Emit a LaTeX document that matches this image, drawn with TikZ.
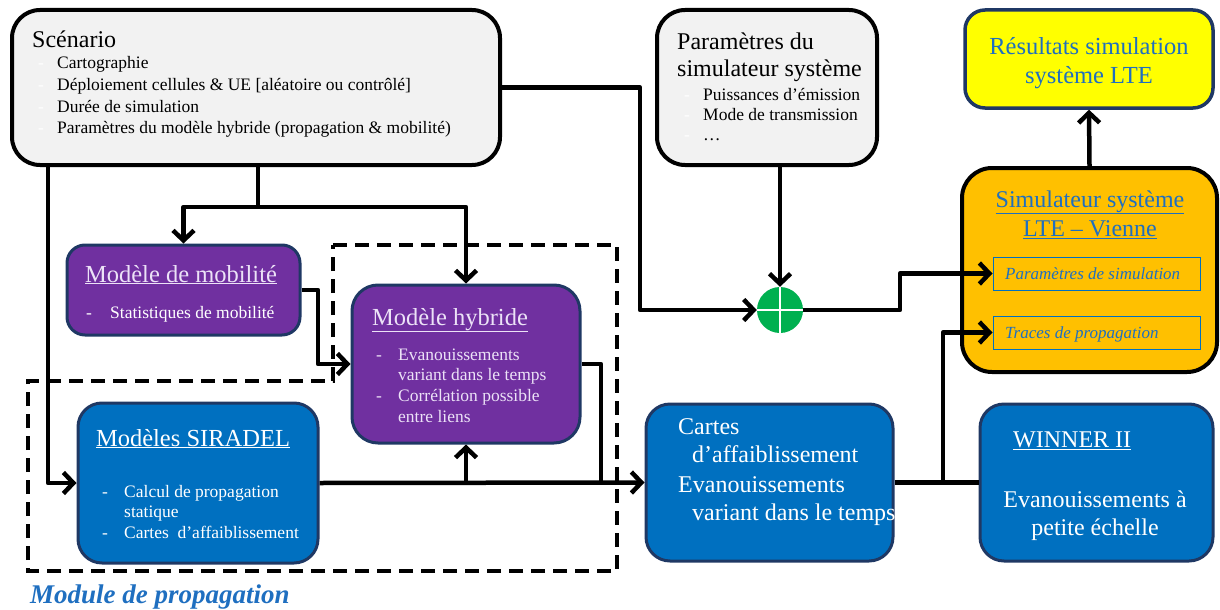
\documentclass[tikz,border=0pt]{standalone}
\usepackage{fontspec}
\setmainfont{Liberation Serif}
\usetikzlibrary{arrows.meta}
\definecolor{boxgray}{HTML}{F2F2F2}
\definecolor{purp}{HTML}{7030A0}
\definecolor{blu}{HTML}{0070C0}
\definecolor{navy}{HTML}{1F3864}
\definecolor{orng}{HTML}{FFC000}
\definecolor{yel}{HTML}{FFFF00}
\definecolor{grn}{HTML}{00B050}
\definecolor{lav}{HTML}{ECE2F7}
\definecolor{txtblue}{HTML}{1F6FC0}
\newcommand{\wdash}{\makebox[19pt][l]{\textcolor{white}{-}}}
\newcommand{\pdash}{\makebox[22pt][l]{-}}
\tikzset{
  box/.style={rectangle, inner sep=0pt},
  graybox/.style={box, fill=boxgray, draw=black, line width=4pt, rounded corners=28pt},
  purpbox/.style={box, fill=purp, draw=navy, line width=3pt, rounded corners=20pt},
  bluebox/.style={box, fill=blu, draw=navy, line width=3pt, rounded corners=24pt},
  innerbox/.style={box, draw=blu, line width=1pt},
  txt/.style={inner sep=0pt, anchor=base west},
  ctxt/.style={inner sep=0pt, anchor=base},
  big/.style={font=\fontsize{24.5}{28}\selectfont},
  mid/.style={font=\fontsize{24}{28}\selectfont},
  small/.style={font=\fontsize{17.5}{20}\selectfont},
  wire/.style={line width=4.5pt, line join=round},
  conn/.style={wire, -{Straight Barb[length=10pt,width=21pt,line width=4.5pt]}},
}
\begin{document}
\begin{tikzpicture}[x=1pt,y=-1pt]
\useasboundingbox (0,0) rectangle (1220,610);
% dashed propagation module
\draw[line width=3.5pt, dash pattern=on 14pt off 8pt] (333,245) -- (617,245) -- (617,571) -- (28,571) -- (28,381) -- (333,381) -- cycle;

% boxes
\node[graybox, minimum width=488pt, minimum height=155pt] (scen) at (256,87.5) {};
\node[graybox, minimum width=220pt, minimum height=155pt] (param) at (767,87.5) {};
\node[box, fill=yel, draw=navy, line width=3.5pt, rounded corners=20pt, minimum width=248pt, minimum height=98pt] (res) at (1089,59) {};
\node[box, fill=orng, draw=black, line width=4pt, rounded corners=30pt, minimum width=255pt, minimum height=204pt] (simu) at (1089.5,270) {};
\node[innerbox, minimum width=207pt, minimum height=33pt] (psim) at (1096.5,273.5) {};
\node[innerbox, minimum width=207pt, minimum height=33pt] (ptr) at (1096.5,332.5) {};
\node[purpbox, rounded corners=18pt, minimum width=233pt, minimum height=90pt] (mob) at (183.5,290) {};
\node[purpbox, rounded corners=26pt, minimum width=228pt, minimum height=158pt] (hyb) at (466,364) {};
\node[bluebox, minimum width=240pt, minimum height=160pt] (sir) at (198,483) {};
\node[bluebox, minimum width=247pt, minimum height=157pt] (cartes) at (769.5,482.5) {};
\node[bluebox, minimum width=233pt, minimum height=157pt] (winner) at (1096.5,482.5) {};
\node[circle, fill=grn, inner sep=0pt, minimum size=46pt] (circ) at (780,310) {};
\draw[white, line width=1.2pt] (circ.north) -- (circ.south) (circ.west) -- (circ.east);

% texts: Scenario
\node[txt, font=\fontsize{24}{28}\selectfont] (t1) at (32,48) {Scénario};
\node[txt, small] (t2) at (38,68) {\wdash Cartographie};
\node[txt, small] (t3) at (38,90) {\wdash Déploiement cellules \& UE [aléatoire ou contrôlé]};
\node[txt, small] (t4) at (38,112) {\wdash Durée de simulation};
\node[txt, small] (t5) at (38,133) {\wdash Paramètres du modèle hybride (propagation \& mobilité)};
% Parametres
\node[txt, font=\fontsize{24}{28}\selectfont] (p1) at (677,50) {Paramètres du};
\node[txt, font=\fontsize{24}{28}\selectfont] (p2) at (677,77) {simulateur système};
\node[txt, small] (p3) at (684,100) {\wdash Puissances d’émission};
\node[txt, small] (p4) at (684,120) {\wdash Mode de transmission};
\node[txt, small] (p5) at (684,140) {\wdash …};
% Resultats
\node[ctxt, big, text=txtblue] (r1) at (1089,55) {Résultats simulation};
\node[ctxt, big, text=txtblue] (r2) at (1089,83) {système LTE};
% Simulateur
\node[ctxt, mid, text=txtblue] (s1) at (1090,207) {\underline{Simulateur système}};
\node[ctxt, mid, text=txtblue] (s2) at (1090,236) {\underline{LTE -- Vienne}};
\node[txt, font=\fontsize{17}{20}\itshape, text=txtblue] (s3) at (1005,279) {Paramètres de simulation};
\node[txt, font=\fontsize{17}{20}\itshape, text=txtblue] (s4) at (1005,338) {Traces de propagation};
% Mobilite
\node[ctxt, big, text=lav] (m1) at (181,282) {\underline{Modèle de mobilité}};
\node[txt, small, text=white] (m2) at (86,318) {\makebox[24pt][l]{-}Statistiques de mobilité};
% Hybride
\node[ctxt, big, text=lav] (h1) at (450,325) {\underline{Modèle hybride}};
\node[txt, small, text=lav] (h2) at (376,360) {\pdash Evanouissements};
\node[txt, small, text=lav] (h3) at (398,380) {variant dans le temps};
\node[txt, small, text=lav] (h4) at (376,401) {\pdash Corrélation possible};
\node[txt, small, text=lav] (h5) at (398,422) {entre liens};
% SIRADEL
\node[ctxt, big, text=white] (q1) at (193,446) {\underline{Modèles SIRADEL}};
\node[txt, small, text=white] (q2) at (102,497) {\pdash Calcul de propagation};
\node[txt, small, text=white] (q3) at (124,517) {statique};
\node[txt, small, text=white] (q4) at (102,538) {\pdash Cartes\ \ d’affaiblissement};
% Cartes
\node[txt, mid, text=white] (c1) at (678,434) {Cartes};
\node[txt, mid, text=white] (c2) at (692,462) {d’affaiblissement};
\node[txt, mid, text=white] (c3) at (678,492) {Evanouissements};
\node[txt, mid, text=white] (c4) at (692,520) {variant dans le temps};
% Winner
\node[txt, mid, text=white] (w1) at (1013,447) {\underline{WINNER II}};
\node[ctxt, mid, text=white] (w2) at (1095,507) {Evanouissements à};
\node[ctxt, mid, text=white] (w3) at (1095,535) {petite échelle};
% Module label
\node[txt, font=\fontsize{27}{30}\selectfont\bfseries\itshape, text=txtblue] (lab) at (30,603) {Module de propagation};

% connectors
\coordinate (j1) at (258,207);
\coordinate (k1) at (640,310);
\coordinate (k2) at (900,310);
\coordinate (k3) at (318,290);
\coordinate (k4) at (601,483);
\coordinate (k5) at (943,482.5);
\coordinate (k6) at (48,165);
\draw[conn] (scen.east) -| (k1) -- (circ.west);
\draw[conn] (circ.north |- param.south) -- (circ.north);
\draw[conn] (circ.east) -- (k2) |- (psim.west);
\draw[conn] (k6) |- (sir.west);
\draw[wire] (j1 |- scen.south) -- (j1);
\draw[conn] (j1) -| (mob.north);
\draw[conn] (j1) -| (hyb.north);
\draw[conn] (mob.east) -- (k3) |- (hyb.west);
\draw[conn] (sir.east) -- (cartes.west);
\draw[conn] (hyb.south |- sir.east) -- (hyb.south);
\draw[wire] (hyb.east) -| (k4);
\draw[wire] (cartes.east) -- (winner.west);
\draw[conn] (k5) |- (ptr.west);
\draw[conn] (simu.north) -- (res.south);
\end{tikzpicture}
\end{document}
